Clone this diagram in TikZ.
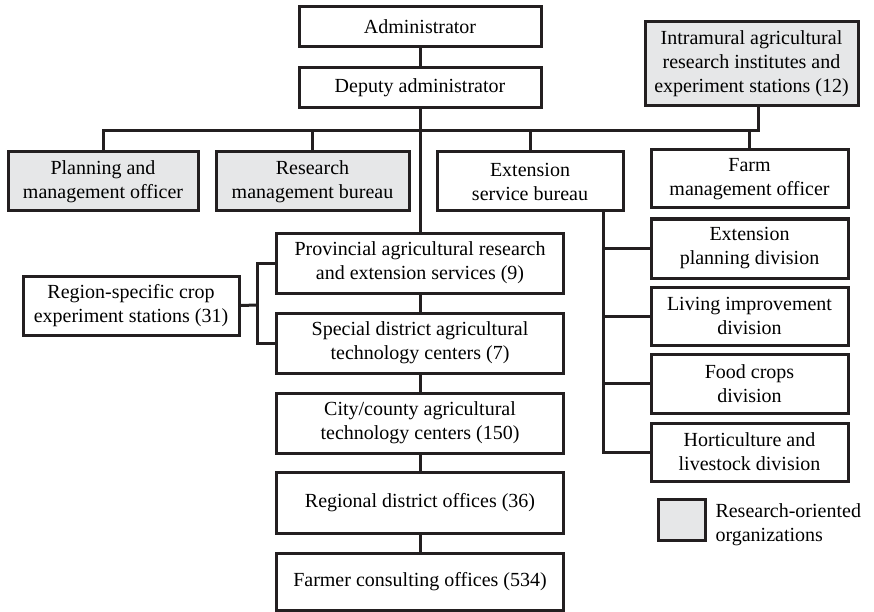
\documentclass[tikz,border=0pt]{standalone}
\usepackage{fontspec}
\setmainfont{Liberation Serif}
\definecolor{khung}{HTML}{231F20}
\definecolor{xam}{HTML}{E6E7E8}
\begin{document}
\begin{tikzpicture}[x=1pt,y=-1pt,line width=3pt,
		hop/.style={draw=khung,fill=white,align=center,inner sep=0pt,font=\fontsize{20}{24}\selectfont},
		nc/.style={hop,fill=xam},
		noi/.style={draw=khung,line width=3pt}]
		\useasboundingbox (0,0) rectangle (874,612);
		% Các hộp
		\node[hop,minimum width=242,minimum height=40] (admin) at (420,27) {Administrator};
		\node[hop,minimum width=242,minimum height=40] (deputy) at (420,88) {Deputy administrator};
		\node[nc,minimum width=213,minimum height=84] (intra) at (751.5,64) {Intramural agricultural\\research institutes and\\experiment stations (12)};
		\node[nc,minimum width=190,minimum height=59] (plan) at (103,181.5) {Planning and\\management officer};
		\node[nc,minimum width=193,minimum height=59] (resb) at (312.5,181.5) {Research\\management bureau};
		\node[hop,minimum width=186,minimum height=59] (extb) at (530,181.5) {Extension\\service bureau};
		\node[hop,minimum width=197,minimum height=58] (farm) at (749.5,179) {Farm\\management officer};
		\node[hop,minimum width=287,minimum height=60] (prov) at (420,263) {Provincial agricultural research\\and extension services (9)};
		\node[hop,minimum width=287,minimum height=60] (spec) at (420,343) {Special district agricultural\\technology centers (7)};
		\node[hop,minimum width=287,minimum height=60] (city) at (420,423) {City/county agricultural\\technology centers (150)};
		\node[hop,minimum width=287,minimum height=61] (regd) at (420,502.5) {Regional district offices (36)};
		\node[hop,minimum width=287,minimum height=57] (farmer) at (420,581.5) {Farmer consulting offices (534)};
		\node[hop,minimum width=216,minimum height=59] (region) at (131,305.5) {Region-specific crop\\experiment stations (31)};
		\node[hop,minimum width=197,minimum height=59] (expl) at (749.5,248.5) {Extension\\planning division};
		\node[hop,minimum width=197,minimum height=58] (livi) at (749.5,316) {Living improvement\\division};
		\node[hop,minimum width=197,minimum height=59] (food) at (749.5,383.5) {Food crops\\division};
		\node[hop,minimum width=197,minimum height=58] (hort) at (749.5,452) {Horticulture and\\livestock division};
		% Chú thích
		\node[nc,minimum width=47,minimum height=41] (key) at (681.5,519.5) {};
		\node[anchor=west,align=left,inner sep=0pt,font=\fontsize{20}{24}\selectfont] (keytext) at (714,525) {Research-oriented\\organizations};
		% Đường nối
		\coordinate (bus) at (758,131);
		\coordinate (extline) at ([xshift=73]extb.south);
		\coordinate (regbr) at (257,305);
		\draw[noi] (admin) -- (deputy);
		\draw[noi] (deputy) -- (prov);
		\draw[noi] (plan.north) |- (bus) -- (bus |- intra.south);
		\foreach \b in {resb,extb,farm}
			\draw[noi] (\b.north) -- (\b.north |- bus);
		\draw[noi] (prov) -- (spec);
		\draw[noi] (spec) -- (city);
		\draw[noi] (city) -- (regd);
		\draw[noi] (regd) -- (farmer);
		\draw[noi] (prov.west) -| (regbr) |- (spec.west);
		\draw[noi] (region.east) -- (regbr);
		\draw[noi] (extline) |- (hort.west);
		\foreach \d in {expl,livi,food}
			\draw[noi] (\d.west) -- (\d.west -| extline);
\end{tikzpicture}
\end{document}
